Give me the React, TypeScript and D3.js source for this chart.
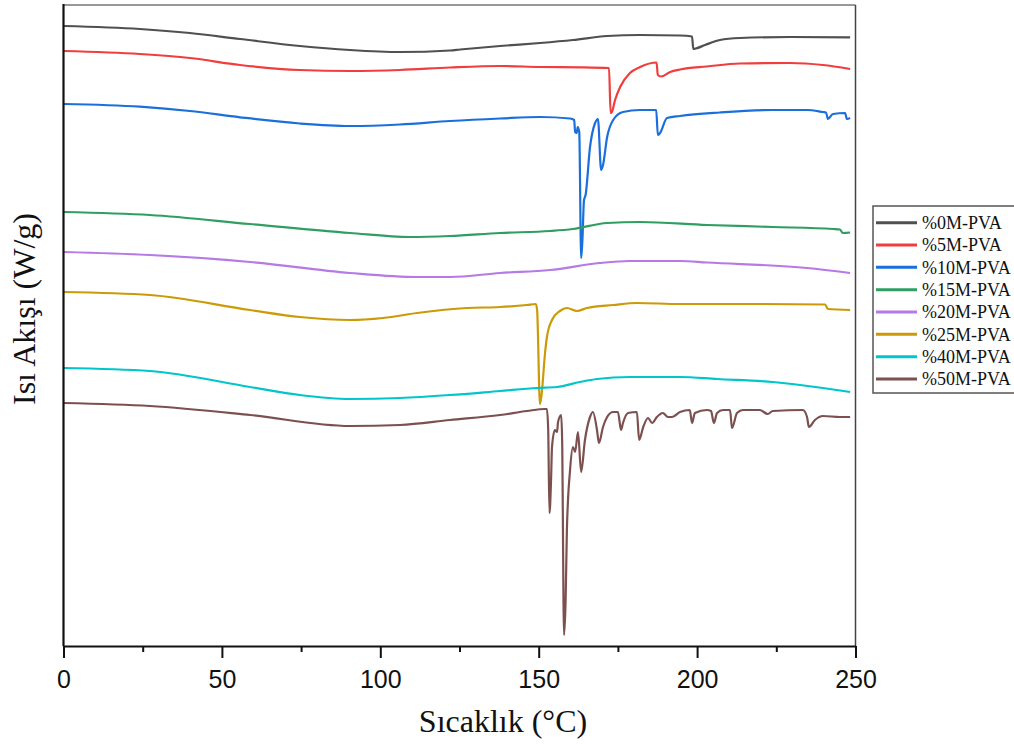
import React, { useEffect, useRef } from "react";
import * as d3 from "d3";

// Temperature (°C) / heat flow (arbitrary offset units, W/g) readings
const s0M: [number, number][] = [
  [0, 62.0], [24.1, 61.7], [39.9, 61.3], [55.7, 60.7], [74.6, 60.0], [90.4, 59.6], [106.2, 59.4],
  [122, 59.55], [125.2, 59.65], [137.8, 60.0], [150.4, 60.3], [160.8, 60.6], [171.6, 61.0], [182, 61.1],
  [194.6, 61.05], [198.4, 60.95], [198.8, 59.7], [199.6, 59.75], [202.5, 60.1], [207.2, 60.6],
  [213.5, 60.8], [229.3, 60.9], [248.3, 60.87],
];
const s5M: [number, number][] = [
  [0, 59.5], [24.1, 59.2], [39.9, 58.8], [55.7, 58.1], [74.6, 57.6], [90.4, 57.5], [106.2, 57.6],
  [122, 57.85], [137.8, 58.0], [150.4, 57.9], [163, 57.87], [172.2, 57.8], [172.7, 53.3], [173.1, 53.4],
  [174.1, 54.6], [175.7, 55.9], [178.8, 57.3], [182, 57.9], [187.2, 58.35], [187.6, 57.1], [188.6, 56.95],
  [191.5, 57.4], [194.6, 57.65], [203.1, 57.95], [213.5, 58.25], [229.3, 58.3], [239.7, 58.1], [248.3, 57.7],
];
const s10M: [number, number][] = [
  [0, 54.2], [24.1, 53.93], [39.9, 53.5], [55.7, 52.87], [74.6, 52.25], [90.4, 52.0], [106.2, 52.15],
  [122, 52.5], [137.8, 52.75], [150.4, 52.9], [159.9, 52.75], [161.2, 52.6], [161.5, 51.4], [162, 51.3],
  [162.3, 51.9], [162.8, 51.4], [163.4, 38.8], [163.8, 40.6], [164.3, 44.6], [164.8, 45.1], [166.2, 49.9],
  [167.8, 52.3], [168.7, 52.7], [169.7, 47.6], [170.3, 48.1], [171.6, 50.9], [173.5, 52.6], [176.6, 53.4],
  [182, 53.6], [187.1, 53.6], [187.6, 51.1], [188.3, 51.3], [190.5, 52.8], [194.6, 53.0], [207.2, 53.35],
  [223.9, 53.6], [234.7, 53.6], [239.7, 53.4], [240.7, 53.35], [241.3, 52.7], [242.9, 53.2], [246.7, 53.3],
  [247.3, 52.7], [248.3, 52.8],
];
const s15M: [number, number][] = [
  [0, 43.4], [27.3, 43.1], [58.9, 42.2], [90.4, 41.3], [109.3, 40.9], [122, 41.0], [137.8, 41.3],
  [153.6, 41.5], [160.8, 41.7], [171.6, 42.3], [182, 42.4], [203.1, 42.1], [223.9, 41.9], [242.9, 41.7],
  [245.1, 41.65], [246, 41.3], [248.3, 41.35],
];
const s20M: [number, number][] = [
  [0, 39.4], [27.3, 39.1], [58.9, 38.4], [90.4, 37.3], [111.6, 36.9], [122, 36.9], [137.8, 37.3],
  [153.6, 37.6], [169.3, 38.3], [178.8, 38.5], [194.6, 38.5], [203.1, 38.35], [234.7, 37.8], [248.3, 37.3],
];
const s25M: [number, number][] = [
  [0, 35.4], [27.3, 35.1], [58.9, 33.6], [74.6, 32.9], [90.4, 32.6], [100.9, 32.8], [111.6, 33.3],
  [127.4, 33.8], [137.8, 33.9], [146.3, 34.1], [149.1, 34.2], [149.5, 33.6], [150.4, 24.2], [150.9, 25.1],
  [152, 29.3], [152.6, 30.9], [154.2, 32.6], [156.7, 33.5], [158.9, 33.8], [162.1, 33.5], [165.2, 33.8],
  [173.5, 34.1], [181, 34.3], [194.6, 34.2], [219.8, 34.2], [240.4, 34.15], [241.3, 33.7], [248.3, 33.6],
];
const s40M: [number, number][] = [
  [0, 27.8], [27.3, 27.5], [58.9, 25.9], [74.6, 25.1], [90.4, 24.7], [106.2, 24.8], [122, 25.1],
  [137.8, 25.5], [149.5, 25.8], [155.8, 25.9], [163, 26.4], [168.4, 26.7], [178.8, 26.9], [194.6, 26.9],
  [206.3, 26.7], [223.9, 26.4], [239.7, 25.8], [248.3, 25.4],
];
const s50M: [number, number][] = [
  [0, 24.3], [27.3, 24.0], [58.9, 23.1], [90.4, 22.0], [106.2, 22.1], [122, 22.6], [137.8, 23.1],
  [146.3, 23.5], [152, 23.7], [152.6, 23.7], [153, 21.6], [153.4, 13.3], [153.9, 16.6], [154.2, 19.9],
  [155.1, 21.6], [155.8, 21.4], [156.1, 22.4], [157.1, 23.1], [157.4, 20.6], [158.0, 1.1], [158.5, 4.6],
  [158.9, 11.6], [159.9, 17.6], [160.8, 19.9], [161.5, 19.4], [162.4, 21.4], [163.4, 17.4], [164.6, 20.6],
  [166.2, 22.9], [167.1, 23.4], [168.4, 21.6], [169, 20.3], [170.3, 21.9], [171.6, 22.9], [173.5, 23.4],
  [175, 23.4], [176, 21.6], [176.6, 22.3], [178.2, 23.3], [181, 23.4], [181.7, 20.6], [183, 21.9],
  [184.5, 22.8], [185.8, 22.3], [187.3, 22.9], [189.2, 23.3], [190.8, 22.9], [192.1, 22.9], [194.6, 23.4],
  [197.7, 23.6], [198.4, 22.3], [199.3, 23.3], [203.1, 23.6], [204.4, 23.5], [205.3, 22.3], [206.3, 23.3],
  [208.2, 23.6], [210.4, 23.6], [211, 21.8], [212.6, 23.3], [214.5, 23.6], [219.8, 23.6], [222.3, 23.2],
  [223.9, 23.5], [233.4, 23.6], [234.7, 22.9], [235.3, 21.9], [237.2, 22.6], [239.7, 23.0], [245.1, 22.9],
  [248.3, 22.9],
];

const seriesNames = ["%0M-PVA", "%5M-PVA", "%10M-PVA", "%15M-PVA", "%20M-PVA", "%25M-PVA", "%40M-PVA", "%50M-PVA"];
const seriesData = [s0M, s5M, s10M, s15M, s20M, s25M, s40M, s50M];
const seriesColors = ["#505050", "#f03e3e", "#1a6fdc", "#2f9e62", "#b57ae6", "#cc9a06", "#00c6cc", "#7d5050"];
const xTicks = [0, 50, 100, 150, 200, 250];
const xMinorTicks = [25, 75, 125, 175, 225];

export default function App() {
  const ref = useRef<SVGSVGElement>(null);

  useEffect(() => {
    const svg = d3.select(ref.current);
    svg.selectAll("*").remove();
    const W = 1014, H = 746;
    const left = 63.5, right = 855.5, top = 5, bottom = 646;

    const x = d3.scaleLinear().domain([0, 250]).range([left, right]);
    const y = d3.scaleLinear().domain([0, 64.1]).range([bottom, top]);

    svg.append("rect").attr("width", W).attr("height", H).attr("fill", "#fff");

    // frame (top / right)
    svg.append("line").attr("x1", left).attr("x2", right).attr("y1", top).attr("y2", top)
      .attr("stroke", "#777").attr("stroke-width", 1.5);
    svg.append("line").attr("x1", right).attr("x2", right).attr("y1", top).attr("y2", bottom)
      .attr("stroke", "#444").attr("stroke-width", 1.5);

    const line = d3.line<[number, number]>()
      .x((d) => x(d[0]))
      .y((d) => y(d[1]))
      .curve(d3.curveMonotoneX);

    const g = svg.append("g");
    seriesData.forEach((s, i) => {
      g.append("path").attr("d", line(s) as string).attr("fill", "none")
        .attr("stroke", seriesColors[i]).attr("stroke-width", 2.2).attr("stroke-linejoin", "round");
    });

    // left axis
    svg.append("line").attr("x1", left).attr("x2", left).attr("y1", top - 1).attr("y2", bottom)
      .attr("stroke", "#111").attr("stroke-width", 2.2);

    // bottom axis
    const xAxis = d3.axisBottom(x).tickValues(xTicks).tickSize(12).tickSizeOuter(0).tickFormat(d3.format("d"));
    const ax = svg.append("g").attr("transform", `translate(0,${bottom})`).call(xAxis);
    ax.select(".domain").attr("stroke", "#111").attr("stroke-width", 2.2);
    ax.selectAll(".tick line").attr("stroke", "#111").attr("stroke-width", 2);
    ax.selectAll(".tick text").attr("font-family", "Liberation Sans, Arial, sans-serif")
      .attr("font-size", 25).attr("fill", "#111").attr("dy", null).attr("y", 42);
    const minor = d3.axisBottom(x).tickValues(xMinorTicks).tickSize(6).tickFormat(() => "");
    const mx = svg.append("g").attr("transform", `translate(0,${bottom})`).call(minor);
    mx.select(".domain").remove();
    mx.selectAll(".tick line").attr("stroke", "#111").attr("stroke-width", 2);

    // axis titles
    svg.append("text").attr("x", 503).attr("y", 732).attr("text-anchor", "middle")
      .attr("font-family", "Liberation Serif, Times New Roman, serif").attr("font-size", 32).attr("fill", "#111")
      .text("Sıcaklık (°C)");
    svg.append("text").attr("transform", "translate(35,309) rotate(-90)").attr("text-anchor", "middle")
      .attr("font-family", "Liberation Serif, Times New Roman, serif").attr("font-size", 32).attr("fill", "#111")
      .text("Isı Akışı (W/g)");

    // legend
    const lg = svg.append("g");
    lg.append("rect").attr("x", 873).attr("y", 206).attr("width", 160).attr("height", 187)
      .attr("fill", "#fff").attr("stroke", "#555").attr("stroke-width", 1.5);
    seriesNames.forEach((n, i) => {
      const yy = 222.7 + i * 22.33;
      lg.append("line").attr("x1", 876).attr("x2", 917).attr("y1", yy).attr("y2", yy)
        .attr("stroke", seriesColors[i]).attr("stroke-width", 3);
      lg.append("text").attr("x", 922).attr("y", yy).attr("dy", "0.35em")
        .attr("font-family", "Liberation Serif, Times New Roman, serif").attr("font-size", 18).attr("fill", "#111")
        .text(n);
    });
  }, []);

  return (
    <svg ref={ref} width={1014} height={746}
      style={{ position: "absolute", left: 0, top: 0, display: "block" }} />
  );
}
